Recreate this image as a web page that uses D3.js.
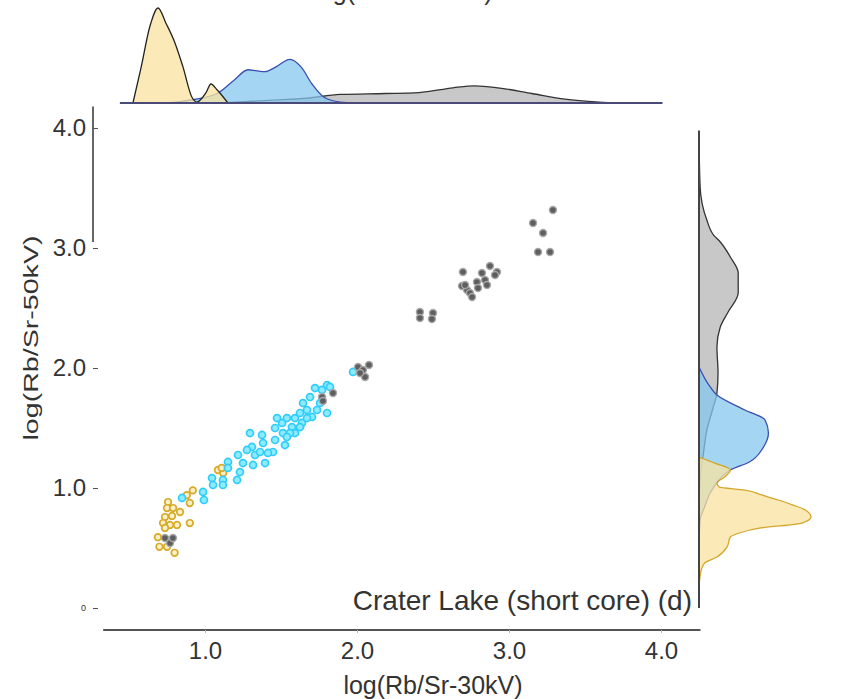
<!DOCTYPE html>
<html>
<head>
<meta charset="utf-8">
<script src="https://cdn.jsdelivr.net/npm/d3@7"></script>
<style>
	body { margin: 0; background: #fff; }
	text { font-family: "Liberation Sans", Arial, sans-serif; fill: #333; }
</style>
</head>
<body>
<script>
// scatter points, [log(Rb/Sr-30kV), log(Rb/Sr-50kV)]
var yellowPts = [
	[0.757, 0.883], [0.75, 0.833], [0.79, 0.833], [0.836, 0.8], [0.737, 0.758],
	[0.783, 0.767], [0.724, 0.708], [0.77, 0.692], [0.737, 0.667], [0.816, 0.692],
	[0.90, 0.708], [0.69, 0.59], [0.70, 0.51], [0.75, 0.51], [0.80, 0.46],
	[0.88, 0.94], [0.92, 0.98], [0.90, 0.875], [1.085, 1.15], [1.12, 1.125],
	[1.11, 1.167]
];
var cyanPts = [
	[0.849, 0.917], [0.987, 0.967], [0.993, 0.90], [1.046, 1.083], [1.053, 1.025],
	[1.118, 1.067], [1.118, 1.025], [1.151, 1.217], [1.151, 1.167], [1.211, 1.067],
	[1.23, 1.133], [1.217, 1.275], [1.25, 1.208], [1.296, 1.458], [1.309, 1.342],
	[1.329, 1.275], [1.316, 1.192], [1.375, 1.442], [1.382, 1.375], [1.395, 1.208],
	[1.362, 1.30], [1.447, 1.30], [1.461, 1.40], [1.461, 1.50], [1.507, 1.542],
	[1.513, 1.458], [1.526, 1.358], [1.539, 1.583], [1.572, 1.508], [1.592, 1.458],
	[1.592, 1.583], [1.625, 1.625], [1.638, 1.542], [1.645, 1.708], [1.671, 1.65],
	[1.691, 1.758], [1.704, 1.592], [1.737, 1.65], [1.757, 1.708], [1.724, 1.833],
	[1.77, 1.817], [1.803, 1.858], [1.803, 1.625], [1.822, 1.842], [1.974, 1.967],
	[1.474, 1.583], [1.559, 1.458], [1.671, 1.583], [1.276, 1.317], [1.414, 1.292],
	[1.539, 1.425], [1.625, 1.508]
];
var greyPts = [
	[0.737, 0.583], [0.77, 0.542], [0.789, 0.583],
	[1.77, 1.758], [1.842, 1.792], [1.776, 1.725],
	[2.007, 2.008], [2.039, 1.983], [2.079, 2.025], [2.053, 1.925], [2.02, 1.958],
	[2.414, 2.467], [2.414, 2.417], [2.50, 2.458], [2.493, 2.408],
	[2.697, 2.80], [2.691, 2.683], [2.724, 2.65], [2.743, 2.625], [2.757, 2.592],
	[2.789, 2.717], [2.822, 2.792], [2.842, 2.733], [2.855, 2.692], [2.875, 2.85],
	[2.921, 2.80], [2.908, 2.775], [2.796, 2.667], [2.711, 2.692],
	[3.289, 3.317], [3.158, 3.208], [3.224, 3.125], [3.191, 2.967], [3.27, 2.967]
];

// marginal densities, [value, relative density]
var topYellow = [[0.526, 0], [0.579, .37], [0.638, .81], [0.691, 1], [0.743, .84],
	[0.803, .63], [0.855, .38], [0.914, .06], [0.947, .01], [1.007, .11], [1.039, .2],
	[1.079, .14], [1.151, 0]];
var topBlue = [[0.75, 0], [0.855, .02], [1.079, .1], [1.191, .24], [1.283, .35],
	[1.336, .34], [1.395, .33], [1.467, .38], [1.559, .46], [1.632, .38], [1.704, .2],
	[1.783, .06], [1.888, .01], [2.0, 0]];
var topGrey = [[1.08, 0], [1.447, .03], [1.671, .05], [1.888, .09], [2.184, .1],
	[2.408, .11], [2.632, .16], [2.776, .18], [2.928, .16], [3.151, .1], [3.368, .04],
	[3.592, .01], [3.737, 0]];

var rightYellow = [[1.258, 0], [1.208, .14], [1.15, .28], [1.092, .23], [1.042, .16],
	[1.008, .18], [0.983, .41], [0.942, .56], [0.9, .71], [0.858, .84], [0.817, .95],
	[0.758, 1], [0.708, .92], [0.667, .55], [0.625, .36], [0.592, .28], [0.508, .25],
	[0.425, .16], [0.375, .05], [0.317, .02], [0.175, 0]];
var rightBlue = [[2.008, 0], [1.842, .1], [1.775, .16], [1.65, .41], [1.567, .59],
	[1.458, .62], [1.333, .57], [1.217, .45], [1.15, .28], [1.067, .18], [0.958, .1],
	[0.842, .05], [0.733, .01], [0.5, 0]];
var rightGrey = [[3.958, 0], [3.508, .01], [3.233, .07], [3.108, .13], [3.05, .19],
	[2.925, .28], [2.792, .35], [2.625, .35], [2.467, .26], [2.342, .19], [2.175, .16],
	[1.958, .17], [1.792, .16], [1.65, .12], [1.483, .07], [1.292, .04], [1.067, .01],
	[0.733, 0], [0.1, 0]];

var xTicks = [1, 2, 3, 4];
var yTicks = [0, 1, 2, 3, 4];
var yTickLabels = ['0', '1.0', '2.0', '3.0', '4.0'];

var width = 852, height = 699;

var svg = d3.select('body').append('svg')
	.attr('width', width)
	.attr('height', height);

svg.append('rect')
	.attr('width', width)
	.attr('height', height)
	.attr('fill', '#fff');

// scales shared by the scatter and the margins
var x = d3.scaleLinear().domain([0, 4]).range([53, 661]);
var y = d3.scaleLinear().domain([0, 4]).range([608, 128]);

var topDens = d3.scaleLinear().domain([0, 1]).range([103, 8]);
var rightDens = d3.scaleLinear().domain([0, 1]).range([699, 811]);

// top marginal density
var topArea = d3.area()
	.curve(d3.curveMonotoneX)
	.x(function(d) { return x(d[0]); })
	.y0(topDens(0))
	.y1(function(d) { return topDens(d[1]); });

var topSeries = [
	{data: topGrey, fill: '#b5b5b5', stroke: '#333'},
	{data: topBlue, fill: '#86c8f0', stroke: '#3a4db0'},
	{data: topYellow, fill: '#fae3a0', stroke: '#222'}
];
topSeries.forEach(function(s) {
	svg.append('path')
		.datum(s.data)
		.attr('d', topArea)
		.attr('fill', s.fill)
		.attr('fill-opacity', 0.75)
		.attr('stroke', s.stroke)
		.attr('stroke-width', 1.3);
});

svg.append('line')
	.attr('x1', x(0.44)).attr('x2', x(4.01))
	.attr('y1', topDens(0)).attr('y2', topDens(0))
	.attr('stroke', '#4a4a78')
	.attr('stroke-width', 2);

// right marginal density
var rightArea = d3.area()
	.curve(d3.curveMonotoneY)
	.y(function(d) { return y(d[0]); })
	.x0(rightDens(0))
	.x1(function(d) { return rightDens(d[1]); });

var rightSeries = [
	{data: rightGrey, fill: '#b5b5b5', stroke: '#333'},
	{data: rightBlue, fill: '#86c8f0', stroke: '#3a4db0'},
	{data: rightYellow, fill: '#fae3a0', stroke: '#d4a62a'}
];
rightSeries.forEach(function(s) {
	svg.append('path')
		.datum(s.data)
		.attr('d', rightArea)
		.attr('fill', s.fill)
		.attr('fill-opacity', 0.75)
		.attr('stroke', s.stroke)
		.attr('stroke-width', 1.3);
});

svg.append('line')
	.attr('x1', rightDens(0)).attr('x2', rightDens(0))
	.attr('y1', y(3.98)).attr('y2', y(0))
	.attr('stroke', '#444')
	.attr('stroke-width', 2);

// axes
var xAxis = d3.axisBottom(x)
	.tickValues(xTicks)
	.tickFormat(d3.format('.1f'))
	.tickSize(3)
	.tickPadding(9);

var gx = svg.append('g')
	.attr('transform', 'translate(0,630)')
	.call(xAxis);
gx.select('.domain')
	.attr('d', 'M' + x(0.33) + ',0H' + x(4.26))
	.attr('stroke', '#555')
	.attr('stroke-width', 2);
gx.selectAll('.tick line').attr('stroke', '#bbb');
gx.selectAll('text')
	.style('font-size', '24px')
	.attr('fill', '#333');

var yAxis = d3.axisLeft(y)
	.tickValues(yTicks)
	.tickFormat(function(d, i) { return yTickLabels[i]; })
	.tickSize(-5)
	.tickPadding(7);

var gy = svg.append('g')
	.attr('transform', 'translate(93,0)')
	.call(yAxis);
gy.select('.domain')
	.attr('d', 'M0,' + y(4.18) + 'V' + y(3.05))
	.attr('stroke', '#333')
	.attr('stroke-width', 1.5);
gy.selectAll('.tick line').attr('stroke', '#555');
gy.selectAll('text')
	.style('font-size', function(d) { return d === 0 ? '9px' : '24px'; })
	.attr('fill', '#333');

// points
svg.append('g').selectAll('circle')
	.data(yellowPts)
	.enter().append('circle')
	.attr('cx', function(d) { return x(d[0]); })
	.attr('cy', function(d) { return y(d[1]); })
	.attr('r', 3.3)
	.attr('fill', '#fbefc4')
	.attr('stroke', '#d7aa2c')
	.attr('stroke-width', 1.7);

svg.append('g').selectAll('circle')
	.data(cyanPts)
	.enter().append('circle')
	.attr('cx', function(d) { return x(d[0]); })
	.attr('cy', function(d) { return y(d[1]); })
	.attr('r', 3.5)
	.attr('fill', '#8debff')
	.attr('stroke', '#30cdfb')
	.attr('stroke-width', 1.7);

svg.append('g').selectAll('circle')
	.data(greyPts)
	.enter().append('circle')
	.attr('cx', function(d) { return x(d[0]); })
	.attr('cy', function(d) { return y(d[1]); })
	.attr('r', 3.5)
	.attr('fill', '#5e5e5e')
	.attr('stroke', '#a8a8a8')
	.attr('stroke-width', 1.4);

// titles
svg.append('text')
	.attr('x', 433)
	.attr('y', 694)
	.attr('text-anchor', 'middle')
	.style('font-size', '25px')
	.text('log(Rb/Sr-30kV)');

svg.append('text')
	.attr('transform', 'translate(38,338) rotate(-90)')
	.attr('text-anchor', 'middle')
	.attr('textLength', 205)
	.attr('lengthAdjust', 'spacingAndGlyphs')
	.style('font-size', '20px')
	.text('log(Rb/Sr-50kV)');

// title of the panel above, mostly cut off at the top edge
svg.append('text')
	.attr('x', 403)
	.attr('y', 0)
	.attr('text-anchor', 'middle')
	.style('font-size', '25px')
	.text('log(Rb/Sr-30kV)');

svg.append('text')
	.attr('x', 692)
	.attr('y', 610)
	.attr('text-anchor', 'end')
	.style('font-size', '28px')
	.text('Crater Lake (short core) (d)');
</script>
</body>
</html>
